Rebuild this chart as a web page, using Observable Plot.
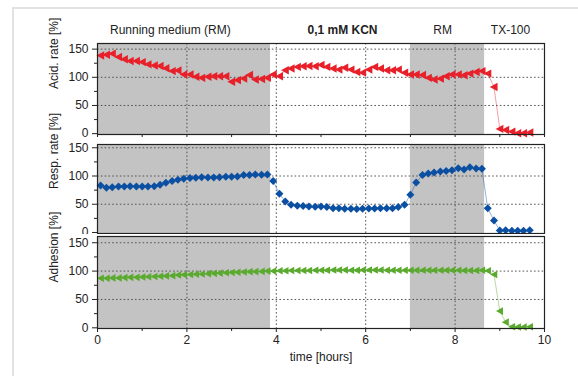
<!DOCTYPE html>
<html>
<head>
<meta charset="utf-8">
<script src="https://cdn.jsdelivr.net/npm/d3@7"></script>
<script src="https://cdn.jsdelivr.net/npm/@observablehq/plot@0.6"></script>
<style>
  html, body { margin: 0; padding: 0; background: #fff; }
  #chart { position: relative; width: 578px; height: 376px; overflow: hidden; background: #fff; }
  #border { position: absolute; left: 12px; top: 7px; width: 600px; height: 400px; z-index: 10;
            border-left: 2px solid #e2e2e2; border-top: 2px solid #e2e2e2; pointer-events: none; }
  #chart svg { position: absolute; left: 0; }
</style>
</head>
<body>
<div id="chart"><div id="border"></div></div>
<script>
// ---- data ----
const times = [0.07,0.2,0.33,0.47,0.6,0.73,0.87,1.0,1.13,1.27,1.4,1.53,1.67,1.8,1.93,
  2.07,2.2,2.33,2.47,2.6,2.73,2.87,3.0,3.13,3.27,3.4,3.53,3.67,3.8,3.93,
  4.07,4.2,4.33,4.47,4.6,4.73,4.87,5.0,5.13,5.27,5.4,5.53,5.67,5.8,5.93,
  6.07,6.2,6.33,6.47,6.6,6.73,6.87,7.0,7.13,7.27,7.4,7.53,7.67,7.8,7.93,
  8.07,8.2,8.33,8.47,8.6,8.73,8.87,9.0,9.13,9.27,9.4,9.53,9.67];

const acidRate = [138.7,140,142,136,132,129,129,127,123,121,120,116,111,112,105,105,101,99,101,102,
  102,102,92,95,98,104,96,97,99,105,
  102,112.5,115.5,118.5,119.6,120,119.6,122,118.5,115.5,113.7,117,113.7,109.5,108.3,113.7,118.5,115.5,112.5,112.5,113.7,108,
  105,105,104,99,96,97.6,102,105,105,103.6,106.6,109.5,111,106.6,82.8,8.4,6.6,3.6,0.6,0.6,2];

const respRate = [83.3,79.2,80.3,81.5,81.5,82,81.5,81.5,81.5,82,84.5,88,91,93.3,95,96.3,97,98,97.5,97.5,
  98,98.6,98.6,99.2,101.6,101.6,102.8,102.2,102.8,91,
  68.5,55,49,47.2,46.7,46,45.5,46,45,43,43,42,42,41.4,42,42.5,42.5,43,43,43,45,49,
  67,88.6,101.6,104.5,106,108,108.7,110,113.8,111.4,115.7,113.3,112.8,43,21,3.5,4,3,3,3,4];

const adhesion = [87.5,87.5,88,88,88.5,89,89,89.5,90,90.5,91,91.5,92,93,93.5,94,94.5,95,95.5,96,
  96.5,97,97.5,98,98.5,99,99,99.5,100,100,
  100.5,100.5,101,101,101,101,101.5,101.5,101.5,102,102,102,101.5,101.5,102,102,102,102,101.5,101.5,101.5,101.5,
  101.5,101.5,101.5,101.5,101.5,101.5,101.5,101.5,101.5,101,101,101,101.5,100.5,94,29.5,10,2,1.5,1.5,2];

const phaseStart = [0, 7.0];
const phaseEnd = [3.87, 8.66];
const phaseLabels = ["Running medium (RM)", "0,1 mM KCN", "RM", "TX-100"];
const phaseLabelTimes = [1.63, 5.48, 7.72, 9.24];
const panelLabels = ["Acid. rate [%]", "Resp. rate [%]", "Adhesion [%]"];
const xLabel = "time [hours]";
const xMajorTicks = [0, 2, 4, 6, 8, 10];
const xMinorTicks = [1, 3, 5, 7, 9];
const xGridTicks = [2, 4, 6, 8];
const yMajorTicks = [0, 50, 100, 150];
const yMinorTicks = [25, 75, 125];
const yGridTicks = [50, 100, 150];

// ---- symbols ----
const leftTriangle = {
  draw(ctx, size) {
    const r = Math.sqrt(size / Math.PI);
    ctx.moveTo(-r, 0);
    ctx.lineTo(r * 0.85, -r);
    ctx.lineTo(r * 0.85, r);
    ctx.closePath();
  }
};
const diamond = {
  draw(ctx, size) {
    const r = Math.sqrt(size / Math.PI);
    ctx.moveTo(0, -r);
    ctx.lineTo(r, 0);
    ctx.lineTo(0, r);
    ctx.lineTo(-r, 0);
    ctx.closePath();
  }
};

const phases = phaseStart.map((s, i) => ({start: s, end: phaseEnd[i]}));
const font = "'Liberation Sans', Arial, Helvetica, sans-serif";
const chart = document.getElementById("chart");
const border = document.getElementById("border");

function panel({values, color, symbol, r, label, top, height, marginTop, marginBottom, yDomain, bottom, bg}) {
  const rows = times.map((t, i) => ({t, v: values[i]}));
  const marks = [
    Plot.rect(phases, {x1: "start", x2: "end", fill: "#c3c3c3"}),
    Plot.gridX({ticks: xGridTicks, stroke: "#555", strokeOpacity: 1, strokeWidth: 1, strokeDasharray: "1.6,2.2"}),
    Plot.gridY({ticks: yGridTicks, stroke: "#555", strokeOpacity: 1, strokeWidth: 1, strokeDasharray: "1.6,2.2"}),
    Plot.line(rows, {x: "t", y: "v", stroke: color, strokeWidth: 0.8, strokeOpacity: 0.55}),
    Plot.dot(rows, {x: "t", y: "v", symbol, r, fill: color, stroke: "none"}),
    Plot.frame({stroke: "#222", strokeWidth: 1.2}),
    Plot.axisY({ticks: yMajorTicks, tickSize: 5, tickPadding: 4, label: null, fontSize: 12}),
    Plot.axisY({ticks: yMinorTicks, tickSize: 3, tickFormat: () => "", label: null}),
    Plot.text([label], {text: d => d, frameAnchor: "left", dx: -43, rotate: -90, fontSize: 12, fill: "#222"})
  ];
  if (bottom) {
    marks.push(Plot.axisX({ticks: xMajorTicks, tickSize: 4, tickPadding: 3, label: null, fontSize: 12}));
    marks.push(Plot.axisX({ticks: xMinorTicks, tickSize: 3, tickFormat: () => "", label: null}));
    marks.push(Plot.text([xLabel], {text: d => d, frameAnchor: "bottom", dy: 32, fontSize: 12, fill: "#222"}));
  } else {
    marks.push(Plot.axisX({ticks: xMajorTicks.concat(xMinorTicks), tickSize: 3, tickFormat: () => "", label: null}));
  }
  if (top === 0) {
    const lab = phaseLabels.map((s, i) => ({s, x: phaseLabelTimes[i], bold: s.includes("KCN")}));
    marks.push(Plot.text(lab.filter(d => !d.bold), {x: "x", text: "s", frameAnchor: "top", dy: -18, fontSize: 12, fill: "#222"}));
    marks.push(Plot.text(lab.filter(d => d.bold), {x: "x", text: "s", frameAnchor: "top", dy: -18, fontSize: 12, fontWeight: "bold", fill: "#222"}));
  }
  const svg = Plot.plot({
    width: 578,
    height,
    marginLeft: 97,
    marginRight: 34,
    marginTop,
    marginBottom,
    x: {domain: [0, 10]},
    y: {domain: yDomain},
    style: {fontFamily: font, fontSize: "12px", background: bg || "transparent", color: "#222", overflow: "visible"},
    marks
  });
  svg.style.top = top + "px";
  chart.insertBefore(svg, border);
}

panel({values: acidRate, color: "#e8202a", symbol: leftTriangle, r: 4.2, label: panelLabels[0],
  top: 0, height: 143, marginTop: 43, marginBottom: 9, yDomain: [-1.5, 160]});
panel({values: respRate, color: "#0b4fa2", symbol: diamond, r: 4.0, label: panelLabels[1],
  top: 139, height: 100, marginTop: 5, marginBottom: 6, yDomain: [-1.8, 155.8]});
panel({values: adhesion, color: "#5aab2d", symbol: leftTriangle, r: 3.8, label: panelLabels[2],
  top: 234, height: 142, marginTop: 2, marginBottom: 48, yDomain: [-1.2, 161], bottom: true, bg: "#fff"});
</script>
</body>
</html>
